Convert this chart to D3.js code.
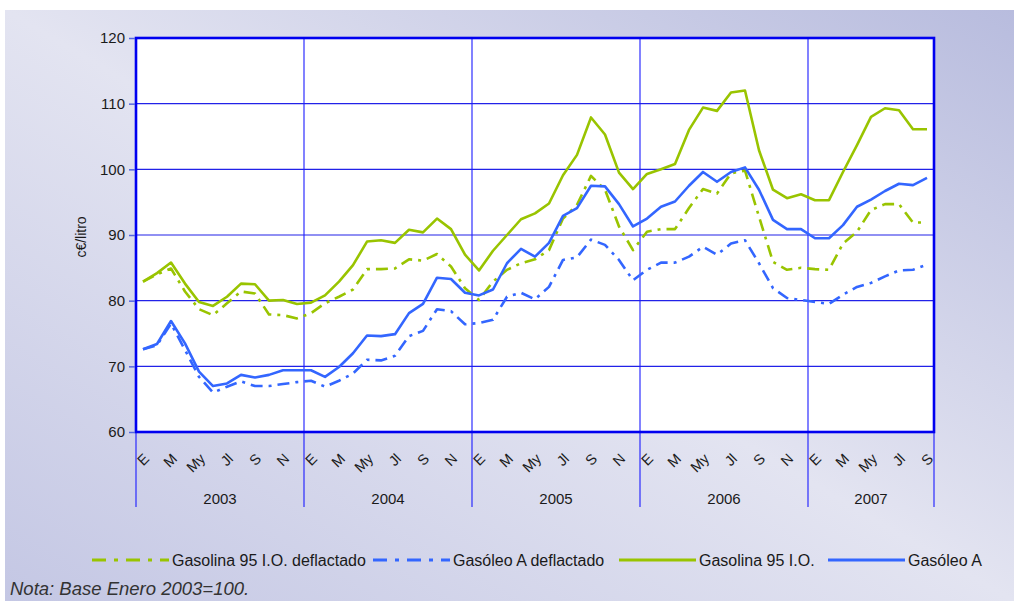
<!DOCTYPE html>
<html><head><meta charset="utf-8">
<script src="https://cdn.jsdelivr.net/npm/d3@7"></script>
<style>
html,body{margin:0;padding:0;background:#fff;}
svg{display:block;font-family:"Liberation Sans",Arial,sans-serif;}
</style></head>
<body>
<svg id="chart" width="1014" height="601"></svg>
<script>
// ---- data ----
const years = ["2003","2004","2005","2006","2007"];
const monthAbbr = ["E","F","M","A","My","Jn","Jl","Ag","S","O","N","D"];
const shownMonths = ["E","M","My","Jl","S","N"];
const yTicks = [60,70,80,90,100,110,120];

const gasolina = [
  82.9, 84.2, 85.8, 82.6, 79.8, 79.2, 80.6, 82.6, 82.5, 80.0, 80.1, 79.5,
  79.7, 80.8, 82.9, 85.4, 89.0, 89.2, 88.8, 90.8, 90.4, 92.5, 90.9, 87.0,
  84.6, 87.6, 90.0, 92.4, 93.3, 94.8, 99.1, 102.2, 107.9, 105.3, 99.5, 97.0,
  99.3, 100.0, 100.8, 106.0, 109.4, 108.9, 111.7, 112.0, 102.9, 96.9, 95.6, 96.2,
  95.3, 95.3, 99.6, 103.7, 108.0, 109.3, 109.0, 106.1, 106.1
];
const gasolinaDefl = [
  82.9, 84.0, 84.9, 81.4, 78.7, 77.8, 79.6, 81.4, 81.1, 77.9, 77.8, 77.3,
  78.1, 79.6, 80.6, 81.7, 84.8, 84.8, 84.9, 86.3, 86.1, 87.1, 85.2, 81.9,
  80.1, 82.9, 84.7, 85.7, 86.3, 87.7, 92.5, 94.6, 99.0, 96.9, 91.3, 87.7,
  90.5, 90.9, 90.9, 94.1, 97.0, 96.3, 99.4, 99.8, 92.8, 85.9, 84.7, 85.0,
  84.8, 84.7, 88.7, 90.5, 93.8, 94.7, 94.7, 91.9, 91.9
];
const gasoleo = [
  72.6, 73.4, 76.9, 73.5, 69.2, 67.0, 67.4, 68.7, 68.3, 68.7, 69.4, 69.4,
  69.4, 68.4, 69.9, 72.0, 74.7, 74.6, 74.9, 78.1, 79.5, 83.5, 83.3, 81.2,
  80.8, 81.7, 85.7, 87.9, 86.7, 88.8, 92.9, 94.1, 97.5, 97.4, 94.7, 91.3,
  92.5, 94.3, 95.1, 97.5, 99.6, 98.1, 99.6, 100.3, 96.9, 92.3, 90.9, 90.9,
  89.5, 89.5, 91.5, 94.3, 95.4, 96.7, 97.8, 97.6, 98.7
];
const gasoleoDefl = [
  72.6, 73.2, 76.5, 72.5, 68.4, 66.0, 66.9, 67.7, 67.0, 67.0, 67.3, 67.6,
  67.8, 66.9, 67.8, 68.9, 71.0, 70.9, 71.6, 74.6, 75.4, 78.7, 78.4, 76.4,
  76.6, 77.1, 80.6, 81.2, 80.2, 82.1, 86.2, 86.6, 89.3, 88.5, 86.2, 83.1,
  84.7, 85.8, 85.8, 86.7, 88.2, 87.0, 88.7, 89.2, 85.7, 81.9, 80.4, 80.1,
  79.8, 79.5, 80.9, 82.1, 82.7, 83.7, 84.6, 84.7, 85.5
];
const seriesNames = ["Gasolina 95 I.O. deflactado","Gasóleo A deflactado","Gasolina 95 I.O.","Gasóleo A"];
const noteText = "Nota: Base Enero 2003=100.";
const yTitle = "c€/litro";

// ---- build ----
const months = [];
years.forEach(y => monthAbbr.forEach(m => months.push({year:y, m:m})));
const nPts = gasolina.length;
const cats = d3.range(nPts);

const svg = d3.select("#chart");
const W = 1014, H = 601;
const L = 136, R = 934, T = 38, B = 432;

const defs = svg.append("defs");
const grad = defs.append("linearGradient").attr("id","bg")
  .attr("x1","0").attr("y1","1").attr("x2","1").attr("y2","0");
grad.append("stop").attr("offset","0").attr("stop-color","#c4c7e4");
grad.append("stop").attr("offset","0.5").attr("stop-color","#e3e4f1");
grad.append("stop").attr("offset","1").attr("stop-color","#b8bcde");
svg.append("rect").attr("x",5).attr("y",10).attr("width",W-5).attr("height",H-10).attr("fill","url(#bg)");

const x = d3.scaleBand().domain(cats).range([L,R]).padding(0);
const y = d3.scaleLinear().domain([60,120]).range([B,T]);
const cx = i => x(i) + x.bandwidth()/2;

// plot bg
svg.append("rect").attr("x",L).attr("y",T).attr("width",R-L).attr("height",B-T).attr("fill","#fff");

// horizontal grid
svg.append("g").selectAll("line").data(yTicks.slice(1,-1)).join("line")
  .attr("x1",L).attr("x2",R).attr("y1",d=>y(d)).attr("y2",d=>y(d))
  .attr("stroke","#2222e8").attr("stroke-width",1.1);

// year separators (extend below axis)
const yearStarts = years.map((yr,k)=>k*12).filter(i=>i<nPts);
svg.append("g").selectAll("line").data(yearStarts.slice(1)).join("line")
  .attr("x1",d=>x(d)).attr("x2",d=>x(d)).attr("y1",T).attr("y2",507)
  .attr("stroke","#1a1aff").attr("stroke-width",1.1);
svg.append("line").attr("x1",L).attr("x2",L).attr("y1",B).attr("y2",507).attr("stroke","#1a1aff").attr("stroke-width",1.1);
svg.append("line").attr("x1",R).attr("x2",R).attr("y1",B).attr("y2",507).attr("stroke","#1a1aff").attr("stroke-width",1.1);

// lines
const line = d3.line().x((d,i)=>cx(i)).y(d=>y(d));
const green = "#99c400", blue = "#3366ff";
const dashDot = "12,6,3,6";
const specs = [
  {data:gasolinaDefl, color:green, dash:dashDot},
  {data:gasoleoDefl, color:blue, dash:dashDot},
  {data:gasolina, color:green, dash:null},
  {data:gasoleo, color:blue, dash:null}
];
specs.forEach(s=>{
  svg.append("path").datum(s.data).attr("d",line)
    .attr("fill","none").attr("stroke",s.color).attr("stroke-width",2.6)
    .attr("stroke-linejoin","round")
    .attr("stroke-dasharray",s.dash);
});

// frame
svg.append("rect").attr("x",L).attr("y",T).attr("width",R-L).attr("height",B-T)
  .attr("fill","none").attr("stroke","#0000f0").attr("stroke-width",2.6);

// y axis
const yAxis = d3.axisLeft(y).tickValues(yTicks).tickSize(6).tickPadding(4);
const ga = svg.append("g").attr("transform",`translate(${L-1},0)`).call(yAxis);
ga.select(".domain").remove();
ga.selectAll(".tick line").attr("stroke","#5566e0").attr("stroke-width",1.5);
ga.selectAll(".tick text").attr("font-size",15).attr("fill","#1a1a1a")
  .attr("font-family","'Liberation Sans',Arial,sans-serif");

svg.append("text").attr("transform","translate(81,237) rotate(-90)")
  .attr("text-anchor","middle").attr("dy","0.35em").attr("font-size",14).attr("fill","#1a1a1a").text(yTitle);

// month labels
const monthIdx = cats.filter(i => shownMonths.includes(months[i].m));
svg.append("g").selectAll("text").data(monthIdx).join("text")
  .attr("transform",d=>`translate(${cx(d)+3.5},456) rotate(-45)`)
  .attr("text-anchor","end").attr("dy","0.35em").attr("font-size",14.5).attr("fill","#1a1a1a")
  .text(d=>months[d].m);

// year labels
svg.append("g").selectAll("text").data(years).join("text")
  .attr("x",(d,k)=>{const s=k*12, e=Math.min(nPts,(k+1)*12); return (x(s)+x(e-1)+x.bandwidth())/2;})
  .attr("y",504).attr("text-anchor","middle").attr("font-size",15).attr("fill","#1a1a1a")
  .text(d=>d);

// legend
const legX = [92, 373, 619, 828];
const lg = svg.append("g");
specs.forEach((s,k)=>{
  lg.append("line").attr("x1",legX[k]).attr("x2",legX[k]+77).attr("y1",560).attr("y2",560)
    .attr("stroke",s.color).attr("stroke-width",3).attr("stroke-dasharray",s.dash?"14,8,4,8":null);
  lg.append("text").attr("x",legX[k]+80).attr("y",560).attr("dy","0.35em")
    .attr("font-size",16).attr("fill","#1a1a1a").text(seriesNames[k]);
});

svg.append("text").attr("x",10).attr("y",589).attr("dy","0.35em").attr("font-size",18.5)
  .attr("font-style","italic").attr("fill","#333").text(noteText);
</script>
</body></html>
